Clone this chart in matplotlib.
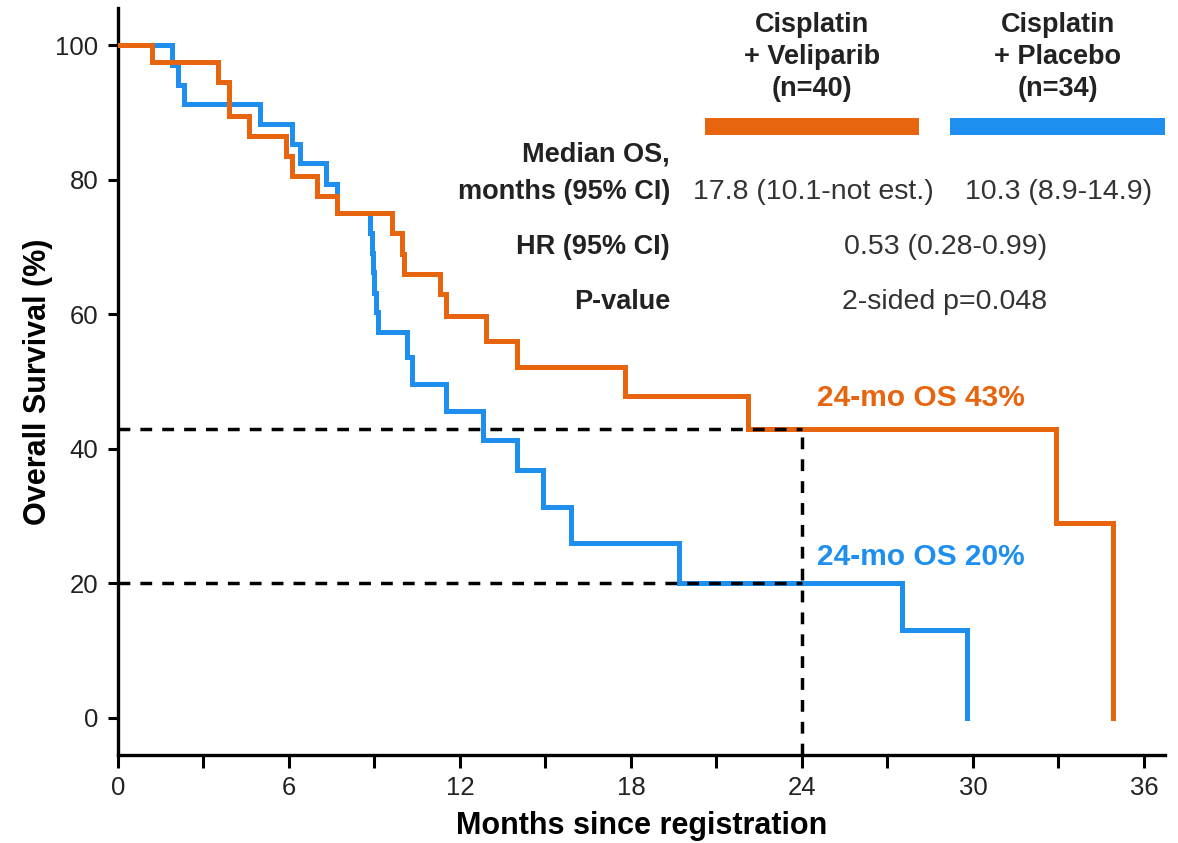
import matplotlib
matplotlib.use("Agg")
import matplotlib.pyplot as plt
from matplotlib.patches import Rectangle

plt.rcParams["font.family"] = ["Liberation Sans", "DejaVu Sans"]

# Kaplan-Meier step data (months, % surviving)
veliparib_t = [0, 1.2, 3.5, 3.9, 4.6, 5.9, 6.1, 7.0, 7.7, 9.6, 9.95, 10.05,
               11.3, 11.5, 12.9, 14.0, 17.8, 22.1, 32.9, 34.9]
veliparib_s = [100, 97.5, 94.5, 89.5, 86.5, 83.5, 80.5, 77.5, 75.0, 72.0, 69.0, 66.0,
               63.0, 59.8, 56.0, 52.2, 47.8, 43.0, 29.0, 0]

placebo_t = [0, 1.9, 2.1, 2.3, 5.0, 6.1, 6.4, 7.3, 7.7, 8.85, 8.9, 8.95, 9.0,
             9.05, 9.12, 10.15, 10.3, 11.5, 12.8, 14.0, 14.9, 15.9, 19.7, 27.5, 29.8]
placebo_s = [100, 97.1, 94.1, 91.2, 88.2, 85.3, 82.4, 79.4, 75.0, 72.1, 69.1, 66.2, 63.2,
             60.3, 57.4, 53.6, 49.6, 45.6, 41.3, 36.8, 31.4, 26.0, 20.0, 13.1, 0]

landmark_month = 24
landmark_os = [43, 20]

arm_names = ["Cisplatin\n+ Veliparib\n(n=40)", "Cisplatin\n+ Placebo\n(n=34)"]
median_os = ["17.8 (10.1-not est.)", "10.3 (8.9-14.9)"]
hr_text = "0.53 (0.28-0.99)"
p_text = "2-sided p=0.048"

ORANGE = "#E8650F"
BLUE = "#1E8FEE"

W, H = 1178, 843
fig = plt.figure(figsize=(W / 100, H / 100), dpi=100)
ax = fig.add_axes([118 / W, 1 - 755 / H, (1165 - 118) / W, (755 - 8) / H])


def fx(px):
    return px / W


def fy(py):
    return 1 - py / H


ax.step(placebo_t, placebo_s, where="post", color=BLUE, lw=3.6, zorder=3,
        solid_joinstyle="miter")
ax.step(veliparib_t, veliparib_s, where="post", color=ORANGE, lw=3.6, zorder=4,
        solid_joinstyle="miter")

# 24-month landmark guides
dash = (0, (3.4, 2.9))
for v in landmark_os:
    ax.plot([0, landmark_month], [v, v], color="black", lw=2.5, ls=dash, zorder=5)
ax.plot([landmark_month, landmark_month], [-5.5, max(landmark_os)], color="black",
        lw=2.5, ls=dash, zorder=5)

ax.set_xlim(0, 36.74)
ax.set_ylim(-5.5, 105.5)
ax.set_xticks(range(0, 37, 6))
ax.set_xticks(range(3, 37, 6), minor=True)
ax.set_yticks(range(0, 101, 20))

for s in ["top", "right"]:
    ax.spines[s].set_visible(False)
for s in ["left", "bottom"]:
    ax.spines[s].set_linewidth(2.4)

ax.tick_params(axis="both", which="both", direction="out", width=2.2, colors="black")
ax.tick_params(axis="x", which="both", length=9, pad=6, labelsize=18.5)
ax.tick_params(axis="y", length=7, pad=7, labelsize=18.5)
for lab in ax.get_xticklabels() + ax.get_yticklabels():
    lab.set_color("#222222")

ax.set_xlabel("Months since registration", fontsize=22, fontweight="bold", labelpad=8)
ax.set_ylabel("Overall Survival (%)", fontsize=22, fontweight="bold", labelpad=2)

# arm headers and colour keys
for name, cx, col, x0, x1 in [(arm_names[0], 812, ORANGE, 705, 919),
                              (arm_names[1], 1058, BLUE, 950, 1165)]:
    fig.text(fx(cx), fy(57), name, ha="center", va="center", fontsize=19.5,
             fontweight="bold", color="#222222", linespacing=1.3)
    fig.add_artist(Rectangle((fx(x0), fy(135)), fx(x1) - fx(x0), fy(118) - fy(135),
                             transform=fig.transFigure, color=col, lw=0))

# summary table
row_kw = dict(ha="right", va="center", fontsize=19.5, fontweight="bold", color="#222222")
fig.text(fx(670), fy(155), "Median OS,", **row_kw)
fig.text(fx(670), fy(192), "months (95% CI)", **row_kw)
fig.text(fx(670), fy(247), "HR (95% CI)", **row_kw)
fig.text(fx(670), fy(302), "P-value", **row_kw)

val_kw = dict(ha="center", va="center", fontsize=20.5, color="#333333")
fig.text(fx(813), fy(192), median_os[0], **val_kw)
fig.text(fx(1059), fy(192), median_os[1], **val_kw)
fig.text(fx(946), fy(247), hr_text, **val_kw)
fig.text(fx(945), fy(302), p_text, **val_kw)

fig.text(fx(817), fy(398), f"24-mo OS {landmark_os[0]}%", ha="left", va="center",
         fontsize=21.5, fontweight="bold", color=ORANGE)
fig.text(fx(817), fy(557), f"24-mo OS {landmark_os[1]}%", ha="left", va="center",
         fontsize=21.5, fontweight="bold", color=BLUE)

fig.savefig("out.png", dpi=100)
